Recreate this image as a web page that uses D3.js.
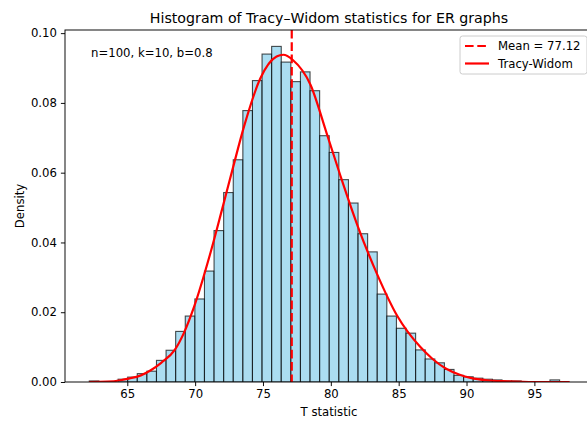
<!DOCTYPE html>
<html>
<head>
<meta charset="utf-8">
<script src="https://cdn.jsdelivr.net/npm/d3@7"></script>
<style>
  body { margin: 0; background: #fff; }
  svg { display: block; font-family: "DejaVu Sans", sans-serif; }
</style>
</head>
<body>
<script>
// histogram: 50 bins starting at binStart, each binWidth wide
var binStart = 62.20;
var binWidth = 0.7073;
var densities = [
  0.0003, 0, 0, 0.0008, 0.0014, 0.0024, 0.0031, 0.0062, 0.0091, 0.0145,
  0.0189, 0.0238, 0.0318, 0.0434, 0.0543, 0.0637, 0.0778, 0.0864, 0.0940, 0.0962,
  0.0917, 0.0861, 0.0889, 0.0835, 0.0706, 0.0658, 0.0580, 0.0513, 0.0425, 0.0373,
  0.0252, 0.0189, 0.0154, 0.0140, 0.0092, 0.0066, 0.0055, 0.0036, 0.0019, 0.0015,
  0.0011, 0.0008, 0.0006, 0.0003, 0.0003, 0, 0, 0, 0.0006, 0
];

// fitted density curve
var curveX = [62.2, 63.5, 64.5, 65.0, 66.0, 66.7, 67.5, 68.5, 69.2, 69.9,
  71.1, 72.0, 72.8, 73.6, 74.8, 76.0, 76.5, 77.2, 78.5, 79.7,
  80.7, 82.0, 83.4, 84.9, 86.6, 87.5, 88.5, 89.5, 90.3, 91.5,
  93.0, 95.0, 97.6];
var curveY = [0.0000, 0.0001, 0.0005, 0.0009, 0.0019, 0.0033, 0.0055, 0.0092, 0.0143, 0.0213,
  0.0366, 0.0497, 0.0616, 0.0732, 0.0870, 0.0933, 0.0938, 0.0923, 0.0852, 0.0712,
  0.0592, 0.0445, 0.0310, 0.0189, 0.0100, 0.0066, 0.0038, 0.0021, 0.0012, 0.0005,
  0.0002, 0.0000, 0.0000];

var meanValue = 77.12;
var xTicks = [65, 70, 75, 80, 85, 90, 95];
var yTicks = [0, 0.02, 0.04, 0.06, 0.08, 0.10];

var W = 587, H = 421;
var m = { left: 65, right: 593, top: 30, bottom: 382 };

var svg = d3.select("body").append("svg")
    .attr("width", W)
    .attr("height", H);

var x = d3.scaleLinear().domain([60.41, 99.32]).range([m.left, m.right]);
var y = d3.scaleLinear().domain([0, 0.1009]).range([m.bottom, m.top]);

svg.append("clipPath").attr("id", "plotclip")
  .append("rect")
    .attr("x", m.left).attr("y", m.top)
    .attr("width", m.right - m.left).attr("height", m.bottom - m.top);

var plot = svg.append("g").attr("clip-path", "url(#plotclip)");

// bars
plot.selectAll("rect.bar")
    .data(densities)
  .enter().append("rect")
    .attr("class", "bar")
    .attr("x", function(d, i) { return x(binStart + i * binWidth); })
    .attr("width", function(d, i) { return x(binStart + (i + 1) * binWidth) - x(binStart + i * binWidth); })
    .attr("y", function(d) { return y(d); })
    .attr("height", function(d) { return y(0) - y(d); })
    .attr("fill", "#87ceeb")
    .attr("fill-opacity", 0.7)
    .attr("stroke", "#000")
    .attr("stroke-opacity", 0.7)
    .attr("stroke-width", 1.1);

// mean line
plot.append("line")
    .attr("x1", x(meanValue)).attr("x2", x(meanValue))
    .attr("y1", m.top).attr("y2", m.bottom)
    .attr("stroke", "red")
    .attr("stroke-width", 2.2)
    .attr("stroke-dasharray", "8.6,3.7");

// curve
var line = d3.line()
    .x(function(d) { return x(d[0]); })
    .y(function(d) { return y(d[1]); })
    .curve(d3.curveMonotoneX);

plot.append("path")
    .datum(d3.zip(curveX, curveY))
    .attr("d", line)
    .attr("fill", "none")
    .attr("stroke", "red")
    .attr("stroke-width", 2.2)
    .attr("stroke-linejoin", "round");

// axes
var xAxis = d3.axisBottom(x).tickValues(xTicks).tickSize(4.1).tickPadding(4)
    .tickFormat(d3.format("d"));
var yAxis = d3.axisLeft(y).tickValues(yTicks).tickSize(4.1).tickPadding(4)
    .tickFormat(d3.format(".2f"));

var gx = svg.append("g").attr("transform", "translate(0," + m.bottom + ")").call(xAxis);
var gy = svg.append("g").attr("transform", "translate(" + m.left + ",0)").call(yAxis);
[gx, gy].forEach(function(g) {
  g.select(".domain").remove();
  g.selectAll("line").attr("stroke", "#000").attr("stroke-width", 0.95);
  g.selectAll("text").attr("fill", "#000").attr("font-size", "11.7px")
    .attr("font-family", "DejaVu Sans, sans-serif");
});

// spines
svg.append("rect")
    .attr("x", m.left).attr("y", m.top)
    .attr("width", m.right - m.left).attr("height", m.bottom - m.top)
    .attr("fill", "none")
    .attr("stroke", "#000")
    .attr("stroke-width", 0.95);

// title and labels
svg.append("text")
    .attr("x", (m.left + m.right) / 2).attr("y", 23)
    .attr("text-anchor", "middle")
    .attr("font-size", "14.2px")
    .text("Histogram of Tracy\u2013Widom statistics for ER graphs");

svg.append("text")
    .attr("x", (m.left + m.right) / 2).attr("y", 416)
    .attr("text-anchor", "middle")
    .attr("font-size", "11.7px")
    .text("T statistic");

svg.append("text")
    .attr("transform", "translate(24," + ((m.top + m.bottom) / 2) + ") rotate(-90)")
    .attr("text-anchor", "middle")
    .attr("font-size", "11.7px")
    .text("Density");

svg.append("text")
    .attr("x", 91).attr("y", 57)
    .attr("font-size", "11.7px")
    .text("n=100, k=10, b=0.8");

// legend
var legend = svg.append("g").attr("transform", "translate(460,36)");
legend.append("rect")
    .attr("width", 127).attr("height", 38).attr("rx", 2.5)
    .attr("fill", "#fff").attr("fill-opacity", 0.8)
    .attr("stroke", "#ccc").attr("stroke-width", 1);

var legendItems = [
  { label: "Mean = " + meanValue.toFixed(2), dash: "8.6,3.7" },
  { label: "Tracy-Widom", dash: null }
];
legendItems.forEach(function(it, i) {
  var yy = 10 + i * 17.5;
  legend.append("line")
      .attr("x1", 5).attr("x2", 29).attr("y1", yy).attr("y2", yy)
      .attr("stroke", "red").attr("stroke-width", 2.2)
      .attr("stroke-dasharray", it.dash);
  legend.append("text")
      .attr("x", 38).attr("y", yy + 4.2)
      .attr("font-size", "11.7px")
      .text(it.label);
});
</script>
</body>
</html>
